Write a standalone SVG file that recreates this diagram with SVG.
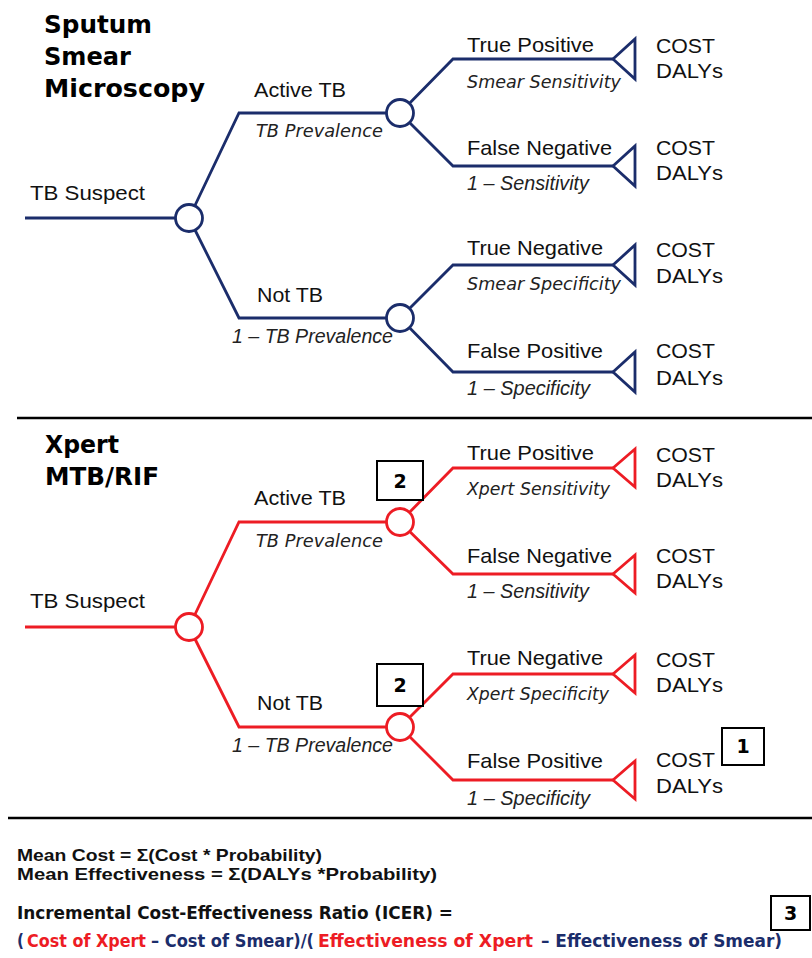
<svg xmlns="http://www.w3.org/2000/svg" width="812" height="958" viewBox="0 0 812 958">
<style>
.bg{fill:#ffffff}
.nv{stroke:#1b2d6b}
.rd{stroke:#ed1c24}
.conn{fill:none;stroke-width:2.8;stroke-linejoin:miter}
.chance{fill:#ffffff;stroke-width:2.8}
.term{fill:#ffffff;stroke-width:2.8;stroke-linejoin:miter}
.div{stroke:#000;stroke-width:2.5}
.title{font-family:"DejaVu Sans",Verdana,sans-serif;font-weight:bold;font-size:25px;fill:#000}
.lab{font-family:"Liberation Sans",Arial,sans-serif;font-size:21px;fill:#111}
.pv{font-family:"DejaVu Sans",Verdana,sans-serif;font-style:italic;font-size:17px;fill:#222}
.pa{font-family:"Liberation Sans",Arial,sans-serif;font-style:italic;font-size:19.5px;fill:#222}
.box{fill:#ffffff;stroke:#000;stroke-width:2}
.boxt{font-family:"DejaVu Sans",Verdana,sans-serif;font-weight:bold;font-size:19px;fill:#000;text-anchor:middle}
.f1{font-family:"Liberation Sans",Arial,sans-serif;font-weight:bold;font-size:16.5px;fill:#111}
.f2{font-family:"DejaVu Sans",Verdana,sans-serif;font-weight:bold;font-size:18px;fill:#111}
.red{fill:#ed1c24}
.navy{fill:#1b2d6b}
</style>
<rect class="bg" x="0" y="0" width="812" height="958"/>

<g id="titles">
<text class="title" x="44" y="33" textLength="108" lengthAdjust="spacingAndGlyphs">Sputum</text>
<text class="title" x="44" y="65" textLength="87" lengthAdjust="spacingAndGlyphs">Smear</text>
<text class="title" x="44" y="97" textLength="161" lengthAdjust="spacingAndGlyphs">Microscopy</text>
<text class="title" x="45" y="453" textLength="74" lengthAdjust="spacingAndGlyphs">Xpert</text>
<text class="title" x="45" y="485" textLength="114" lengthAdjust="spacingAndGlyphs">MTB/RIF</text>
</g>

<g id="dividers">
<line class="div" x1="17" y1="418" x2="812" y2="418"/>
<line class="div" x1="8" y1="818" x2="812" y2="818"/>
</g>

<g id="connectors">
<path class="conn nv" d="M25,218 H189"/>
<path class="conn nv" d="M189,218 L239,113 H400"/>
<path class="conn nv" d="M189,218 L239,318 H400"/>
<path class="conn nv" d="M400,113 L453,59 H613"/>
<path class="conn nv" d="M400,113 L453,166 H613"/>
<path class="conn nv" d="M400,318 L453,265 H613"/>
<path class="conn nv" d="M400,318 L453,372 H613"/>
<path class="conn rd" d="M25,627 H189"/>
<path class="conn rd" d="M189,627 L239,522 H400"/>
<path class="conn rd" d="M189,627 L239,727 H400"/>
<path class="conn rd" d="M400,522 L453,468 H613"/>
<path class="conn rd" d="M400,522 L453,574 H613"/>
<path class="conn rd" d="M400,727 L453,674 H613"/>
<path class="conn rd" d="M400,727 L453,780 H613"/>
</g>

<g id="smear-root">
<text class="lab" x="30" y="200" textLength="115" lengthAdjust="spacingAndGlyphs">TB Suspect</text>
<circle class="chance nv" cx="189" cy="218" r="13.5"/>
</g>
<g id="smear-active">
<text class="lab" x="254" y="97" textLength="92" lengthAdjust="spacingAndGlyphs">Active TB</text>
<text class="pv" x="256" y="137" textLength="127" lengthAdjust="spacingAndGlyphs">TB Prevalence</text>
<circle class="chance nv" cx="400" cy="113" r="13.5"/>
</g>
<g id="smear-nottb">
<text class="lab" x="257" y="302" textLength="66" lengthAdjust="spacingAndGlyphs">Not TB</text>
<text class="pa" x="232" y="343" textLength="161" lengthAdjust="spacingAndGlyphs">1 – TB Prevalence</text>
<circle class="chance nv" cx="400" cy="318" r="13.5"/>
</g>
<g id="smear-tp">
<text class="lab" x="467" y="52" textLength="127" lengthAdjust="spacingAndGlyphs">True Positive</text>
<text class="pv" x="467" y="88" textLength="154" lengthAdjust="spacingAndGlyphs">Smear Sensitivity</text>
<polygon class="term nv" points="613,59 635,39 635,79"/>
<text class="lab" x="656" y="53" textLength="59" lengthAdjust="spacingAndGlyphs">COST</text>
<text class="lab" x="656" y="78" textLength="67" lengthAdjust="spacingAndGlyphs">DALYs</text>
</g>
<g id="smear-fn">
<text class="lab" x="467" y="155" textLength="145" lengthAdjust="spacingAndGlyphs">False Negative</text>
<text class="pa" x="467" y="190" textLength="122" lengthAdjust="spacingAndGlyphs">1 – Sensitivity</text>
<polygon class="term nv" points="613,166 635,146 635,186"/>
<text class="lab" x="656" y="155" textLength="59" lengthAdjust="spacingAndGlyphs">COST</text>
<text class="lab" x="656" y="180" textLength="67" lengthAdjust="spacingAndGlyphs">DALYs</text>
</g>
<g id="smear-tn">
<text class="lab" x="467" y="255" textLength="136" lengthAdjust="spacingAndGlyphs">True Negative</text>
<text class="pv" x="467" y="290" textLength="154" lengthAdjust="spacingAndGlyphs">Smear Specificity</text>
<polygon class="term nv" points="613,265 635,245 635,285"/>
<text class="lab" x="656" y="257" textLength="59" lengthAdjust="spacingAndGlyphs">COST</text>
<text class="lab" x="656" y="283" textLength="67" lengthAdjust="spacingAndGlyphs">DALYs</text>
</g>
<g id="smear-fp">
<text class="lab" x="467" y="358" textLength="136" lengthAdjust="spacingAndGlyphs">False Positive</text>
<text class="pa" x="467" y="395" textLength="123" lengthAdjust="spacingAndGlyphs">1 – Specificity</text>
<polygon class="term nv" points="613,372 635,352 635,392"/>
<text class="lab" x="656" y="358" textLength="59" lengthAdjust="spacingAndGlyphs">COST</text>
<text class="lab" x="656" y="385" textLength="67" lengthAdjust="spacingAndGlyphs">DALYs</text>
</g>

<g id="xpert-root">
<text class="lab" x="30" y="608" textLength="115" lengthAdjust="spacingAndGlyphs">TB Suspect</text>
<circle class="chance rd" cx="189" cy="627" r="13.5"/>
</g>
<g id="xpert-active">
<text class="lab" x="254" y="505" textLength="92" lengthAdjust="spacingAndGlyphs">Active TB</text>
<text class="pv" x="256" y="547" textLength="127" lengthAdjust="spacingAndGlyphs">TB Prevalence</text>
<circle class="chance rd" cx="400" cy="522" r="13.5"/>
</g>
<g id="xpert-nottb">
<text class="lab" x="257" y="710" textLength="66" lengthAdjust="spacingAndGlyphs">Not TB</text>
<text class="pa" x="232" y="752" textLength="161" lengthAdjust="spacingAndGlyphs">1 – TB Prevalence</text>
<circle class="chance rd" cx="400" cy="727" r="13.5"/>
</g>
<g id="xpert-tp">
<text class="lab" x="467" y="460" textLength="127" lengthAdjust="spacingAndGlyphs">True Positive</text>
<text class="pv" x="467" y="495" textLength="143" lengthAdjust="spacingAndGlyphs">Xpert Sensitivity</text>
<polygon class="term rd" points="613,468 635,449 635,487"/>
<text class="lab" x="656" y="462" textLength="59" lengthAdjust="spacingAndGlyphs">COST</text>
<text class="lab" x="656" y="487" textLength="67" lengthAdjust="spacingAndGlyphs">DALYs</text>
</g>
<g id="xpert-fn">
<text class="lab" x="467" y="563" textLength="145" lengthAdjust="spacingAndGlyphs">False Negative</text>
<text class="pa" x="467" y="598" textLength="122" lengthAdjust="spacingAndGlyphs">1 – Sensitivity</text>
<polygon class="term rd" points="613,574 635,555 635,593"/>
<text class="lab" x="656" y="563" textLength="59" lengthAdjust="spacingAndGlyphs">COST</text>
<text class="lab" x="656" y="588" textLength="67" lengthAdjust="spacingAndGlyphs">DALYs</text>
</g>
<g id="xpert-tn">
<text class="lab" x="467" y="665" textLength="136" lengthAdjust="spacingAndGlyphs">True Negative</text>
<text class="pv" x="467" y="700" textLength="142" lengthAdjust="spacingAndGlyphs">Xpert Specificity</text>
<polygon class="term rd" points="613,674 635,655 635,693"/>
<text class="lab" x="656" y="667" textLength="59" lengthAdjust="spacingAndGlyphs">COST</text>
<text class="lab" x="656" y="692" textLength="67" lengthAdjust="spacingAndGlyphs">DALYs</text>
</g>
<g id="xpert-fp">
<text class="lab" x="467" y="768" textLength="136" lengthAdjust="spacingAndGlyphs">False Positive</text>
<text class="pa" x="467" y="805" textLength="123" lengthAdjust="spacingAndGlyphs">1 – Specificity</text>
<polygon class="term rd" points="613,780 635,761 635,799"/>
<text class="lab" x="656" y="767" textLength="59" lengthAdjust="spacingAndGlyphs">COST</text>
<text class="lab" x="656" y="793" textLength="67" lengthAdjust="spacingAndGlyphs">DALYs</text>
</g>

<g id="marker-2a">
<rect class="box" x="377" y="461" width="46" height="39"/>
<text class="boxt" x="400" y="488">2</text>
</g>
<g id="marker-2b">
<rect class="box" x="377" y="664" width="46" height="42"/>
<text class="boxt" x="400" y="692">2</text>
</g>
<g id="marker-1">
<rect class="box" x="722" y="728" width="42" height="37"/>
<text class="boxt" x="743" y="753">1</text>
</g>
<g id="marker-3">
<rect class="box" x="771" y="896" width="39" height="34"/>
<text class="boxt" x="790.5" y="920">3</text>
</g>

<g id="formulas">
<text class="f1" x="17" y="861" textLength="305" lengthAdjust="spacingAndGlyphs">Mean Cost = Σ(Cost * Probability)</text>
<text class="f1" x="17" y="880" textLength="420" lengthAdjust="spacingAndGlyphs">Mean Effectiveness = Σ(DALYs *Probability)</text>
<text class="f2" x="17" y="919" textLength="436" lengthAdjust="spacingAndGlyphs">Incremental Cost-Effectiveness Ratio (ICER) =</text>
<text class="f2 navy" x="17" y="947" textLength="7" lengthAdjust="spacingAndGlyphs">(</text>
<text class="f2 red" x="27" y="947" textLength="119" lengthAdjust="spacingAndGlyphs">Cost of Xpert</text>
<text class="f2 navy" x="151" y="947" textLength="163" lengthAdjust="spacingAndGlyphs">– Cost of Smear)/(</text>
<text class="f2 red" x="318" y="947" textLength="215" lengthAdjust="spacingAndGlyphs">Effectiveness of Xpert</text>
<text class="f2 navy" x="541" y="947" textLength="241" lengthAdjust="spacingAndGlyphs">– Effectiveness of Smear)</text>
</g>
</svg>
